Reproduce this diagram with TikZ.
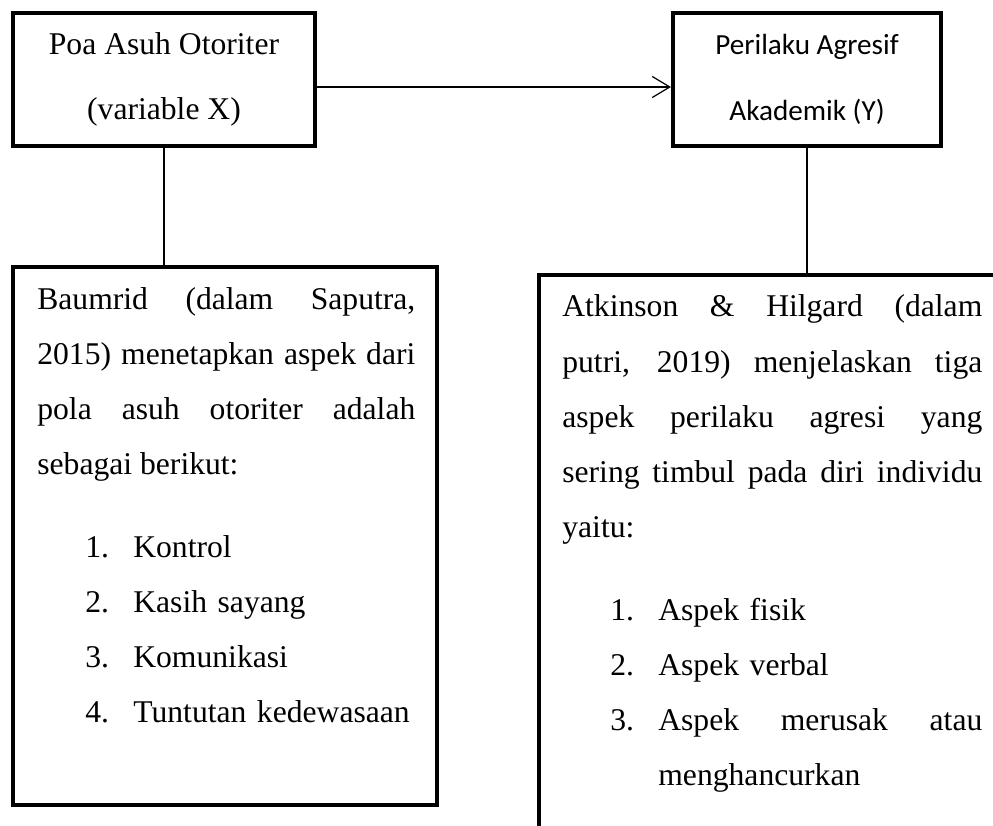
\documentclass[tikz,border=0pt]{standalone}
\usepackage{fontspec}
\setmainfont{Liberation Serif}
\newfontfamily\calibri{Carlito}
\usetikzlibrary{positioning,arrows.meta}
\tikzset{
  box/.style={draw,line width=2.3pt,inner sep=0pt},
  txt/.style={inner sep=0pt,anchor=base west,align=justify,font=\fontsize{18}{31.3}\selectfont},
  link/.style={line width=0.7pt},
}
\newcommand{\num}[1]{\makebox[0.96cm][l]{#1}}

\begin{document}
\begin{tikzpicture}
\clip (0,0) rectangle (19.86,16.5);
% variable boxes
\node[box,minimum width=6.04cm,minimum height=2.66cm,align=center,font=\fontsize{18}{37}\selectfont] (varx) at (3.28,14.91) {Poa Asuh Otoriter\\(variable X)};
\node[box,minimum width=5.36cm,minimum height=2.66cm,align=center,font=\calibri\fontsize{16.6}{37.6}\selectfont] (vary) at (16.14,14.91) {Perilaku Agresif\\Akademik (Y)};
\draw[link,-{Straight Barb[length=10pt,width=12pt]}] ([yshift=-0.15cm]varx.east) -- ([yshift=-0.15cm]vary.west);

% aspect boxes
\node[box,minimum width=8.48cm,minimum height=10.76cm] (aspx) at (4.5,5.78) {};
\node[box,minimum width=9.72cm,minimum height=11.5cm] (aspy) at (15.64,5.25) {};
\draw[link] (varx.south) -- (varx.south |- aspx.north);
\draw[link] (vary.south) -- (vary.south |- aspy.north);

% texts
\node[txt,text width=7.56cm] (parx) at (0.74,10.32) {Baumrid (dalam Saputra,\linebreak 2015) menetapkan aspek dari\linebreak pola asuh otoriter adalah\linebreak sebagai berikut:};
\node[txt,text width=7cm,align=left] (listx) at (1.70,5.36) {\num{1.}Kontrol\\\num{2.}Kasih sayang\\\num{3.}Komunikasi\\\num{4.}Tuntutan kedewasaan};
\node[txt,text width=8.4cm] (pary) at (11.24,10.16) {Atkinson \& Hilgard (dalam\linebreak putri, 2019) menjelaskan tiga\linebreak aspek perilaku agresi yang\linebreak sering timbul pada diri individu\linebreak yaitu:};
\node[txt,text width=7.44cm,align=left] (listy) at (12.2,4.10) {\num{1.}Aspek fisik\\\num{2.}Aspek verbal\\\num{3.}\makebox[6.48cm][l]{Aspek\hfill merusak\hfill atau}\\\hspace*{0.96cm}menghancurkan};
\end{tikzpicture}
\end{document}
